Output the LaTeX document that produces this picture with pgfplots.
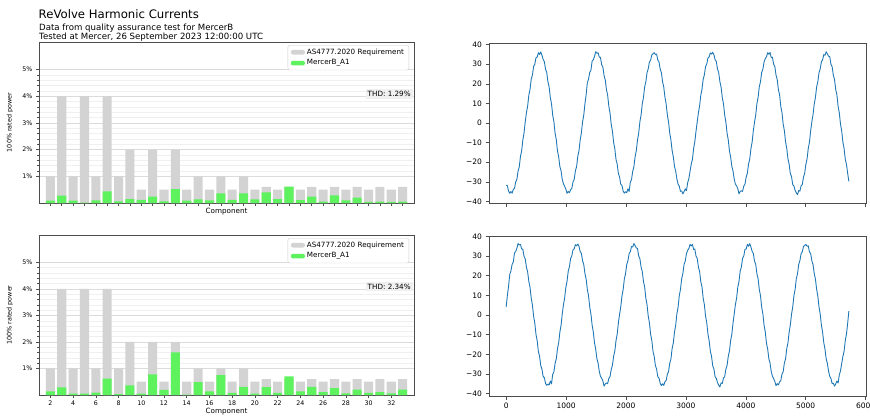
\documentclass[border=0pt]{standalone}
\usepackage{fontspec}
\setmainfont{DejaVu Sans}
\usepackage{pgfplots}
\pgfplotsset{compat=1.18}
\usepackage{pgfplotstable}

\definecolor{reqgray}{HTML}{D3D3D3}
\definecolor{mgreen}{HTML}{5EF25E}
\definecolor{mplblue}{HTML}{1F77B4}

\pgfplotstableread{
comp req a b
2 1 0.09 0.14
3 4 0.28 0.29
4 1 0.09 0.05
5 4 0.01 0.05
6 1 0.10 0.09
7 4 0.44 0.62
8 1 0.06 0.03
9 2 0.15 0.36
10 0.5 0.12 0.05
11 2 0.24 0.78
12 0.5 0.06 0.19
13 2 0.52 1.61
14 0.5 0.09 0.01
15 1 0.14 0.49
16 0.5 0.10 0.14
17 1 0.36 0.75
18 0.5 0.12 0.08
19 1 0.36 0.31
20 0.5 0.14 0.05
21 0.6 0.40 0.30
22 0.5 0.15 0.08
23 0.6 0.61 0.70
24 0.5 0.11 0.14
25 0.6 0.24 0.31
26 0.5 0.05 0.11
27 0.6 0.29 0.26
28 0.5 0.10 0.06
29 0.6 0.20 0.20
30 0.5 0.04 0.08
31 0.6 0.05 0.11
32 0.5 0.04 0.06
33 0.6 0.05 0.20
}\harm

% top waveform (samples every ~19.93 units)
\pgfplotstableread[row sep=\\]{
y\\
-31.8\\ -32.0\\ -34.7\\ -35.9\\ -35.0\\ -35.8\\ -33.9\\ -33.4\\ -30.1\\ -28.8\\ -24.5\\ -22.4\\ -17.0\\ -14.2\\ -8.6\\ -5.1\\ 0.7\\
5.3\\ 8.6\\ 14.2\\ 17.1\\ 22.4\\ 24.4\\ 28.9\\ 30.0\\ 33.4\\ 33.6\\ 35.9\\ 35.0\\
36.3\\ 34.6\\ 32.4\\ 31.3\\ 27.4\\ 25.8\\ 21.0\\ 18.4\\ 13.0\\ 9.8\\ 4.0\\ 0.6\\
-5.2\\ -8.5\\ -14.3\\ -17.2\\ -22.3\\ -24.4\\ -28.8\\ -31.1\\ -32.3\\ -33.8\\ -35.9\\ -34.9\\
-35.6\\ -34.0\\ -33.4\\ -30.1\\ -28.8\\ -24.4\\ -22.3\\ -17.0\\ -14.2\\ -8.7\\ -5.0\\ 0.5\\
4.0\\ 9.8\\ 14.5\\ 20.6\\ 22.4\\ 25.8\\ 26.9\\ 31.6\\ 32.3\\ 34.0\\ 36.4\\ 35.6\\
35.9\\ 33.6\\ 33.5\\ 29.8\\ 28.6\\ 24.3\\ 22.0\\ 17.1\\ 14.2\\ 8.6\\ 5.1\\ -0.7\\
-4.1\\ -9.9\\ -13.1\\ -18.6\\ -21.0\\ -25.8\\ -27.6\\ -31.3\\ -31.9\\ -34.8\\ -35.8\\ -35.1\\
-35.6\\ -33.6\\ -35.0\\ -30.2\\ -28.9\\ -24.6\\ -22.3\\ -17.2\\ -14.1\\ -8.7\\ -5.2\\ 0.6\\
4.1\\ 9.8\\ 13.1\\ 18.5\\ 21.0\\ 25.7\\ 27.7\\ 31.2\\ 32.1\\ 34.8\\ 35.4\\ 35.9\\
35.0\\ 35.2\\ 32.1\\ 31.3\\ 27.6\\ 25.7\\ 21.1\\ 18.3\\ 13.1\\ 9.7\\ 4.1\\ 0.5\\
-5.1\\ -8.7\\ -14.1\\ -17.3\\ -22.2\\ -24.6\\ -28.6\\ -31.2\\ -32.3\\ -34.9\\ -34.7\\ -36.2\\
-35.0\\ -33.6\\ -34.6\\ -30.5\\ -28.4\\ -24.7\\ -21.1\\ -18.5\\ -13.0\\ -9.6\\ -4.2\\ 0.5\\
5.2\\ 8.7\\ 14.1\\ 17.2\\ 22.3\\ 24.6\\ 28.8\\ 30.1\\ 33.2\\ 33.7\\ 35.8\\ 35.2\\
36.1\\ 34.9\\ 32.3\\ 31.4\\ 27.6\\ 25.7\\ 21.1\\ 18.3\\ 13.0\\ 9.8\\ 4.1\\ 0.5\\
-5.1\\ -8.6\\ -14.2\\ -17.3\\ -22.2\\ -24.5\\ -28.7\\ -31.2\\ -32.1\\ -33.5\\ -36.2\\ -35.0\\
-34.6\\ -34.9\\ -32.2\\ -31.3\\ -27.7\\ -25.6\\ -21.0\\ -18.4\\ -13.1\\ -9.7\\ -4.0\\ 0.4\\
4.0\\ 9.9\\ 13.1\\ 18.5\\ 21.1\\ 25.8\\ 27.5\\ 31.2\\ 32.9\\ 33.8\\ 35.9\\ 35.1\\
36.0\\ 33.4\\ 33.6\\ 30.0\\ 28.9\\ 24.5\\ 22.2\\ 17.0\\ 14.4\\ 8.5\\ 5.3\\ -0.6\\
-3.9\\ -9.7\\ -13.0\\ -18.4\\ -21.0\\ -25.9\\ -27.4\\ -31.5\\ -32.2\\ -34.4\\ -35.7\\ -36.6\\
-34.5\\ -34.8\\ -32.1\\ -31.4\\ -27.6\\ -25.7\\ -21.1\\ -18.3\\ -13.0\\ -9.8\\ -4.1\\ 0.6\\
4.2\\ 9.7\\ 13.0\\ 18.4\\ 21.0\\ 25.7\\ 27.6\\ 31.3\\ 32.2\\ 34.9\\ 34.6\\ 36.4\\
35.3\\ 34.1\\ 33.9\\ 30.0\\ 28.7\\ 24.4\\ 22.2\\ 17.1\\ 14.3\\ 8.5\\ 5.2\\ -0.6\\
-4.0\\ -9.8\\ -13.0\\ -18.5\\ -21.1\\ -25.7\\ -29.8\\
}\waveA

% bottom waveform
\pgfplotstableread[row sep=\\]{
y\\
4.0\\ 9.8\\ 14.5\\ 20.6\\ 22.4\\ 25.8\\ 26.9\\ 31.6\\ 32.3\\ 34.0\\ 36.4\\ 35.6\\
35.9\\ 33.6\\ 33.5\\ 29.8\\ 28.6\\ 24.3\\ 22.0\\ 17.1\\ 14.2\\ 8.6\\ 5.1\\ -0.7\\
-4.1\\ -9.9\\ -13.1\\ -18.6\\ -21.0\\ -25.8\\ -27.6\\ -31.3\\ -31.9\\ -34.8\\ -35.8\\ -35.1\\
-35.6\\ -33.6\\ -35.0\\ -30.2\\ -28.9\\ -24.6\\ -22.3\\ -17.2\\ -14.1\\ -8.7\\ -5.2\\ 0.6\\
5.2\\ 8.7\\ 14.1\\ 17.2\\ 22.3\\ 24.6\\ 28.8\\ 30.1\\ 33.2\\ 33.7\\ 35.8\\ 35.2\\
36.1\\ 34.9\\ 32.3\\ 31.4\\ 27.6\\ 25.7\\ 21.1\\ 18.3\\ 13.0\\ 9.8\\ 4.1\\ 0.5\\
-5.1\\ -8.6\\ -14.2\\ -17.3\\ -22.2\\ -24.5\\ -28.7\\ -31.2\\ -32.1\\ -33.5\\ -36.2\\ -35.0\\
-34.6\\ -34.9\\ -32.2\\ -31.3\\ -27.7\\ -25.6\\ -21.0\\ -18.4\\ -13.1\\ -9.7\\ -4.0\\ 0.4\\
4.2\\ 9.7\\ 13.0\\ 18.4\\ 21.0\\ 25.7\\ 27.6\\ 31.3\\ 32.2\\ 34.9\\ 34.6\\ 36.4\\
35.3\\ 34.1\\ 33.9\\ 30.0\\ 28.7\\ 24.4\\ 22.2\\ 17.1\\ 14.3\\ 8.5\\ 5.2\\ -0.6\\
-4.0\\ -9.8\\ -13.0\\ -18.5\\ -21.1\\ -25.7\\ -27.5\\ -31.4\\ -32.0\\ -34.7\\ -35.9\\ -35.0\\
-35.8\\ -33.9\\ -33.4\\ -30.1\\ -28.8\\ -24.5\\ -22.4\\ -17.0\\ -14.2\\ -8.6\\ -5.1\\ 0.7\\
4.0\\ 9.9\\ 13.1\\ 18.5\\ 21.1\\ 25.8\\ 27.5\\ 31.2\\ 32.9\\ 33.8\\ 35.9\\ 35.1\\
36.0\\ 33.4\\ 33.6\\ 30.0\\ 28.9\\ 24.5\\ 22.2\\ 17.0\\ 14.4\\ 8.5\\ 5.3\\ -0.6\\
-3.9\\ -9.7\\ -13.0\\ -18.4\\ -21.0\\ -25.9\\ -27.4\\ -31.5\\ -32.2\\ -34.4\\ -35.7\\ -36.6\\
-34.5\\ -34.8\\ -32.1\\ -31.4\\ -27.6\\ -25.7\\ -21.1\\ -18.3\\ -13.0\\ -9.8\\ -4.1\\ 0.6\\
5.3\\ 8.6\\ 14.2\\ 17.1\\ 22.4\\ 24.4\\ 28.9\\ 30.0\\ 33.4\\ 33.6\\ 35.9\\ 35.0\\
36.3\\ 34.6\\ 32.4\\ 31.3\\ 27.4\\ 25.8\\ 21.0\\ 18.4\\ 13.0\\ 9.8\\ 4.0\\ 0.6\\
-5.2\\ -8.5\\ -14.3\\ -17.2\\ -22.3\\ -24.4\\ -28.8\\ -31.1\\ -32.3\\ -33.8\\ -35.9\\ -34.9\\
-35.6\\ -34.0\\ -33.4\\ -30.1\\ -28.8\\ -24.4\\ -22.3\\ -17.0\\ -14.2\\ -8.7\\ -5.0\\ 0.5\\
4.1\\ 9.8\\ 13.1\\ 18.5\\ 21.0\\ 25.7\\ 27.7\\ 31.2\\ 32.1\\ 34.8\\ 35.4\\ 35.9\\
35.0\\ 35.2\\ 32.1\\ 31.3\\ 27.6\\ 25.7\\ 21.1\\ 18.3\\ 13.1\\ 9.7\\ 4.1\\ 0.5\\
-5.1\\ -8.7\\ -14.1\\ -17.3\\ -22.2\\ -24.6\\ -28.6\\ -31.2\\ -32.3\\ -34.9\\ -34.7\\ -36.2\\
-35.0\\ -33.6\\ -34.6\\ -30.5\\ -28.4\\ -24.7\\ -21.1\\ -18.5\\ -13.0\\ -9.6\\ -4.2\\ 2.0\\
}\waveB

\pgfplotsset{
  harm/.style={
    scale only axis, width=375pt, anchor=south west,
    xmin=1, xmax=34, ymin=0, ymax=6.03,
    ytick={1,2,3,4,5}, yticklabels={1\%,2\%,3\%,4\%,5\%},
    minor y tick num=4,
    ymajorgrids, yminorgrids,
    major grid style={black!14, line width=0.5pt},
    minor grid style={black!6, line width=0.4pt},
    axis line style={black!70, line width=0.6pt},
    tick align=outside, tick pos=left,
    major tick length=3pt, minor tick length=1.6pt,
    tick style={black!70, line width=0.5pt},
    yticklabel style={font=\fontsize{6.3}{7}\selectfont},
    xticklabel style={font=\fontsize{6.3}{7}\selectfont, yshift=1pt},
    /pgf/number format/assume math mode=true,
    ylabel={100\% rated power},
    ylabel style={font=\fontsize{6.4}{7}\selectfont, at={(axis description cs:-0.06,0.5)}, anchor=south},
    xlabel={Component},
    xlabel style={font=\fontsize{7.2}{8}\selectfont, at={(axis description cs:0.5,0)}, anchor=base},
    clip=false,
    legend cell align=left,
    legend style={at={(0.987,0.981)}, anchor=north east, draw=black!20, fill=white,
      rounded corners=2pt, font=\fontsize{7.2}{8.5}\selectfont,
      inner xsep=3pt, inner ysep=1.5pt,
      /tikz/every even column/.append style={column sep=4pt}},
  },
  wave/.style={
    scale only axis, width=377pt, height=160pt, anchor=south west,
    xmin=-286, xmax=6006,
    xtick={0,1000,...,6000}, ytick={-40,-30,...,40},
    yticklabels={−40,−30,−20,−10,0,10,20,30,40},
    scaled x ticks=false,
    axis line style={black!70, line width=0.6pt},
    tick align=outside, tick pos=left, major tick length=3.5pt,
    tick style={black!70, line width=0.5pt},
    tick label style={font=\fontsize{7.5}{8}\selectfont},
    /pgf/number format/assume math mode=true,
    /pgf/number format/1000 sep={},
  },
}

\begin{document}
\begin{tikzpicture}
\useasboundingbox (0pt,0pt) rectangle (870pt,-418pt);

\node[anchor=base west, inner sep=0pt, font=\fontsize{11.7}{13}\selectfont] at (38.5pt,-18.3pt) {ReVolve Harmonic Currents};
\node[anchor=base west, inner sep=0pt, font=\fontsize{8.6}{9}\selectfont] at (39pt,-30.8pt) {Data from quality assurance test for MercerB};
\node[anchor=base west, inner sep=0pt, font=\fontsize{8.6}{9}\selectfont] at (39pt,-39pt) {Tested at Mercer, 26 September 2023 12:00:00 UTC};

% top-left
\begin{axis}[harm, at={(39pt,-203pt)}, height=161pt,
  xtick={2,3,...,33}, xticklabels={},
  xlabel style={yshift=-10pt}]
\addplot[ybar, bar width=0.8, bar shift=0pt, fill=reqgray, draw=none,
  legend image code/.code={\fill[reqgray] (0pt,-2.3pt) rectangle (14pt,2.3pt);}]
  table[x=comp, y=req] {\harm};
\addlegendentry{AS4777.2020 Requirement}
\addplot[ybar, bar width=0.8, bar shift=0pt, fill=mgreen, draw=none,
  legend image code/.code={\fill[mgreen] (0pt,-2.3pt) rectangle (14pt,2.3pt);}]
  table[x=comp, y=a] {\harm};
\addlegendentry{MercerB\_A1}
\node[anchor=east, fill=black!6, inner sep=2pt, font=\fontsize{7.2}{8}\selectfont]
  at (rel axis cs:0.997,0.677) {THD: 1.29\%};
\end{axis}

% bottom-left
\begin{axis}[harm, at={(39pt,-395pt)}, height=160pt,
  xtick={2,4,...,32},
  xlabel style={yshift=-18pt}]
\addplot[ybar, bar width=0.8, bar shift=0pt, fill=reqgray, draw=none,
  legend image code/.code={\fill[reqgray] (0pt,-2.3pt) rectangle (14pt,2.3pt);}]
  table[x=comp, y=req] {\harm};
\addlegendentry{AS4777.2020 Requirement}
\addplot[ybar, bar width=0.8, bar shift=0pt, fill=mgreen, draw=none,
  legend image code/.code={\fill[mgreen] (0pt,-2.3pt) rectangle (14pt,2.3pt);}]
  table[x=comp, y=b] {\harm};
\addlegendentry{MercerB\_A1}
\node[anchor=east, fill=black!6, inner sep=2pt, font=\fontsize{7.2}{8}\selectfont]
  at (rel axis cs:0.997,0.677) {THD: 2.34\%};
\end{axis}

% top-right
\begin{axis}[wave, at={(489pt,-203pt)}, ymin=-40.85, ymax=40.85, xticklabels={}]
\addplot[mplblue, line width=0.9pt, line join=round] table[x expr=\coordindex*19.93, y=y] {\waveA};
\end{axis}

% bottom-right
\begin{axis}[wave, at={(489pt,-396pt)}, ymin=-41.2, ymax=40.2]
\addplot[mplblue, line width=0.9pt, line join=round] table[x expr=\coordindex*19.93, y=y] {\waveB};
\end{axis}
\end{tikzpicture}
\end{document}
